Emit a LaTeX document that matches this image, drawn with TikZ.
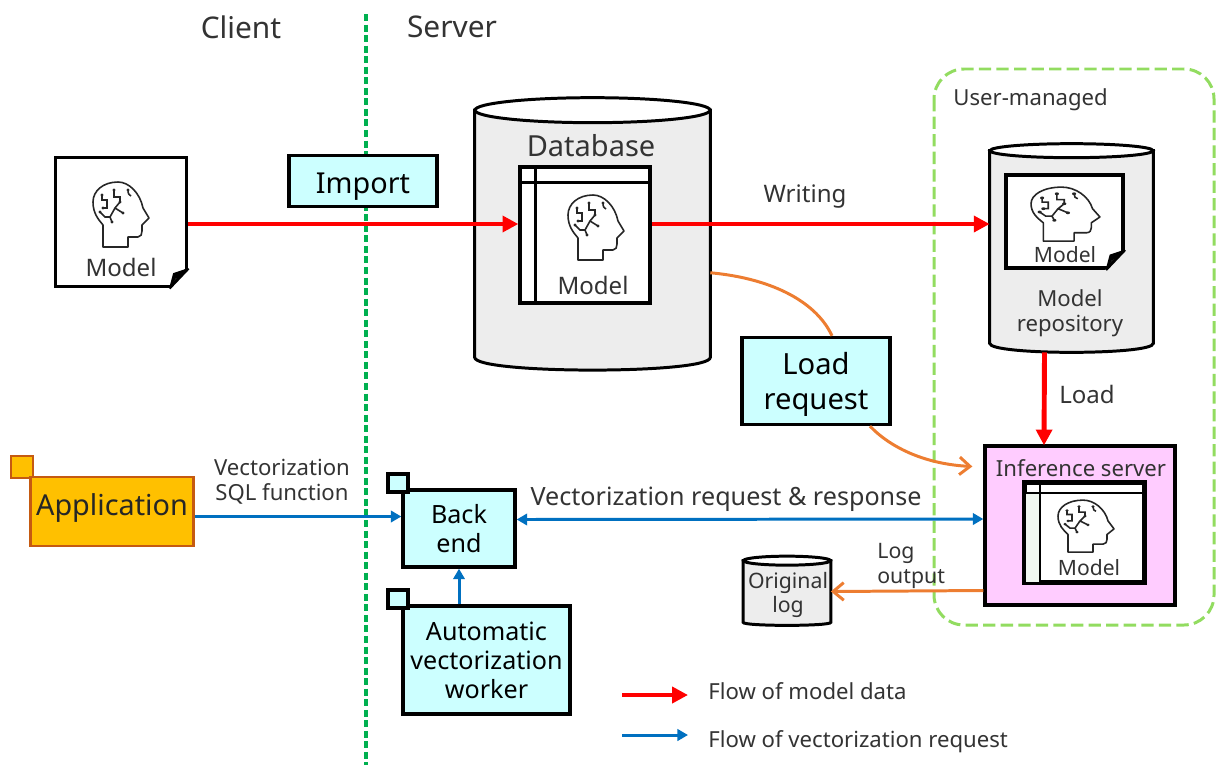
\documentclass[tikz,border=0pt]{standalone}
\usepackage{fontspec}
\setmainfont{Noto Sans}
\usepackage{tikz}
\usetikzlibrary{calc,arrows.meta}
\definecolor{cyanfill}{HTML}{CCFFFF}
\definecolor{pinkfill}{HTML}{FFCCFF}
\definecolor{appfill}{HTML}{FFC000}
\definecolor{appline}{HTML}{C55A11}
\definecolor{grayfill}{HTML}{EDEDED}
\definecolor{flowblue}{HTML}{0070C0}
\definecolor{floworange}{HTML}{ED7D31}
\definecolor{serverline}{HTML}{00B050}
\definecolor{usergreen}{HTML}{92DC60}
\definecolor{palecol}{HTML}{F0F7F0}
\tikzset{
  lbl/.style={inner sep=0pt,text=black!80,align=center},
  lblsmall/.style={lbl,font=\fontsize{12.6}{14}\selectfont},
  lblmodel/.style={lbl,font=\fontsize{12}{14}\selectfont},
  lblmid/.style={lbl,font=\fontsize{13.7}{16}\selectfont},
  lblbig/.style={lbl,font=\fontsize{17}{20}\selectfont},
  box/.style={draw=black,line width=1.9pt,inner sep=0pt,align=center},
  cyanbox/.style={box,fill=cyanfill,font=\fontsize{14.3}{16.5}\selectfont},
  tinybox/.style={draw=black,line width=1.9pt,fill=cyanfill,minimum width=0.4cm,minimum height=0.36cm,inner sep=0pt},
  can/.style={inner sep=0pt},
  whitebox/.style={box,fill=white},
  redflow/.style={draw=red,line width=2.8pt,-{Triangle[length=9pt,width=9pt]}},
  blueflow/.style={draw=flowblue,line width=1.7pt,-{Triangle[length=6pt,width=6.5pt]}},
  bothflow/.style={draw=flowblue,line width=1.7pt,{Triangle[length=6pt,width=6.5pt]}-{Triangle[length=6pt,width=6.5pt]}},
  orangeflow/.style={draw=floworange,line width=1.7pt},
  orangetip/.style={orangeflow,-{Straight Barb[length=6pt,width=10pt]}},
  head/.pic={
    \draw[line width=0.9pt,black!85,line join=round]
      (-16,32) -- (9,32) -- (9,22) -- (19,22) .. controls (22,22) and (23,19) .. (23,16) -- (23,10)
      -- (30,3) -- (24,-7) .. controls (21,-22) and (10,-33) .. (-1,-33)
      .. controls (-16,-33) and (-26,-24) .. (-26,-13) .. controls (-26,-2) and (-21,4) .. (-16,10) -- cycle;
    \draw[line width=0.9pt,black!85]
      (-17,-20) -- (-17,-15) -- (-12,-15) -- (-12,-7) -- (-16,-7)
      (-5,-25) -- (-5,-18) -- (1,-18) -- (1,-13) -- (-4,-7) -- (4,-2)
      (-4,-7) -- (-9,2) -- (-7,7)
      (-19,-3) -- (-14,2) -- (-9,2)
      (9,-25) .. controls (9,-21) and (10,-20) .. (12,-19);
    \foreach \p in {(-17,-20),(-5,-25),(-16,-7),(4,-2),(-19,-3),(-7,7),(9,-25),(1,-13)}
      \fill[black!85] \p circle (1.7);
  }
}
\newcommand{\tablelines}[3]{% node, header drop, column shift
  \draw[line width=1.5pt] ($(#1.north west)+(0,#2)$) -- ($(#1.north east)+(0,#2)$);
  \draw[line width=1.5pt] ($(#1.north west)+(#3,0)$) -- ($(#1.south west)+(#3,0)$);
}
\newcommand{\notefold}[2]{% node, colour outside the fold
  \fill[#2] ($(#1.south east)+(-21,1.5)$) -- ($(#1.south east)+(1.5,1.5)$) -- ($(#1.south east)+(1.5,-21)$) -- cycle;
  \draw[line width=1.9pt,line join=round] ($(#1.south east)+(0,-20)$) -- ($(#1.south east)+(-19,0)$);
  \fill[black] ($(#1.south east)+(0,-20)$) -- ($(#1.south east)+(-15,-15)$) -- ($(#1.south east)+(-19,0)$) -- ($(#1.south east)+(-13,-9)$) -- cycle;
}
\newcommand{\canbody}[4]{% node, half width, end radius, bulge
  \draw[line width=1.7pt,fill=grayfill] (#1.north west) -- (#1.south west)
    .. controls ($(#1.south west)+(0,#4)$) and ($(#1.south east)+(0,#4)$) .. (#1.south east)
    -- (#1.north east) -- cycle;
  \draw[line width=1.7pt,fill=white] (#1.north) ellipse [x radius=#2,y radius=#3];
}
\begin{document}
\begin{tikzpicture}[x=0.02cm,y=-0.02cm]
  \useasboundingbox (0,0) rectangle (1216,765);

  % zones
  \coordinate (divtop) at (366,14);
  \coordinate (divbot) at (366,765);
  \draw[serverline,line width=1.8pt,dash pattern=on 4pt off 2pt] (divtop) -- (divbot);
  \draw[usergreen,line width=1.7pt,dash pattern=on 7pt off 3pt,rounded corners=0.6cm] (934,69) rectangle (1214,625);

  \node[lblbig] (client) at (241,27) {Client};
  \node[lblbig] (server) at (452,27) {Server};
  \node[lblsmall,anchor=west] (usermg) at (953,99.5) {User-managed};

  % stores
  \node[can,minimum width=4.7cm,minimum height=4.93cm] (db) at (592.5,233.75) {};
  \canbody{db}{117.5}{12.5}{17}
  \node[can,minimum width=3.26cm,minimum height=3.84cm] (repo) at (1071.5,247) {};
  \canbody{repo}{81.5}{7}{12}
  \node[can,minimum width=1.74cm,minimum height=1.22cm] (origlog) at (787,591.5) {};
  \canbody{origlog}{43.5}{4.5}{4}

  % model file
  \node[box,fill=white,minimum width=2.62cm,minimum height=2.58cm] (modelfile) at (121,222) {};
  \notefold{modelfile}{white}
  \pic at (119,215) {head};
  \node[lblmid] (modelfiletxt) at (121,267) {Model};

  % model table in database
  \node[whitebox,minimum width=2.6cm,minimum height=2.72cm] (dbtable) at (585,235) {};
  \tablelines{dbtable}{17}{17}
  \node[lblbig,font=\fontsize{16.5}{20}\selectfont] (dbtxt) at (591,146) {Database};
  \pic at (594,228) {head};
  \node[lblmid] (dbmodel) at (593,285) {Model};

  % model file in repository
  \node[box,fill=white,minimum width=2.34cm,minimum height=1.86cm] (repofile) at (1064.5,221.5) {};
  \notefold{repofile}{grayfill}
  \pic[xscale=1.23,yscale=0.83] at (1063,214.5) {head};
  \node[lblmodel] (repomodel) at (1065,255) {Model};
  \node[lblsmall] (repotxt) at (1070,313) {Model\\repository};

  % inference server
  \node[box,fill=pinkfill,minimum width=3.8cm,minimum height=3.18cm] (infer) at (1080,525.5) {};
  \node[lblsmall] (infertxt) at (1081,468) {Inference server};
  \node[whitebox,minimum width=2.36cm,minimum height=1.96cm] (infertable) at (1084.5,532.5) {};
  \fill[palecol] ($(infertable.north west)+(0,11)$) rectangle ($(infertable.south west)+(16,0)$);
  \tablelines{infertable}{11}{16}
  \draw[line width=1.9pt] (infertable.north west) rectangle (infertable.south east);
  \pic[yscale=0.8] at (1084,526.5) {head};
  \node[lblmodel] (infermodel) at (1089,568) {Model};

  % flows of model data
  \draw[redflow] ($(modelfile.east)+(0,2)$) -- ($(dbtable.west)+(0,-11)$);
  \draw[redflow] ($(dbtable.east)+(0,-11)$) -- ($(repo.west)+(0,-23)$);
  \draw[redflow] ($(repo.south)+(-27,9)$) -- ($(infer.north)+(-36,1)$);
  \node[lblmid] (writing) at (805,197) {Writing};
  \node[lblmid] (loadtxt) at (1087,394) {Load};

  % orange flows
  \node[cyanbox,minimum width=2.96cm,minimum height=1.02cm,text depth=0pt,text height=14pt,font=\fontsize{16.4}{19}\selectfont] (import) at (363,181) {Import};
  \node[cyanbox,minimum width=2.96cm,minimum height=1.74cm,text depth=0pt,font=\fontsize{16.6}{20}\selectfont] (loadreq) at (816,381) {Load\\request};
  \draw[orangeflow] ($(db.east)+(0,39)$) .. controls ($(db.east)+(65,45)$) and ($(db.east)+(107,70)$) .. ($(loadreq.north)+(16,0)$);
  \draw[orangetip] ($(loadreq.south)+(54,0)$) .. controls ($(loadreq.south)+(75,22)$) and ($(loadreq.south)+(110,38)$) .. ($(infer.west)+(-11,-59)$);
  \draw[orangetip] ($(infer.west)+(0,65)$) -- (origlog.east);
  \node[lblsmall,font=\fontsize{12.1}{14}\selectfont,align=left,anchor=west] (logtxt) at (877,566) {Log\\output};
  \node[lblsmall,font=\fontsize{12.1}{14}\selectfont] (origtxt) at (788,595) {Original\\log};

  % application side
  \node[draw=appline,line width=1.6pt,fill=appfill,minimum size=0.44cm,inner sep=0pt] (appmark) at (22,467) {};
  \node[draw=appline,line width=1.6pt,fill=appfill,minimum width=3.26cm,minimum height=1.38cm,
        inner sep=0pt,text=black!85,text depth=8pt,font=\fontsize{16.4}{19}\selectfont] (app) at (112,511.5) {Application};
  \node[lblsmall] (sqltxt) at (282,482) {Vectorization\\SQL function};

  % back end and worker
  \node[cyanbox,minimum width=2.24cm,minimum height=1.54cm] (backend) at (459,528.5) {Back\\end};
  \node[tinybox] (backendmark) at (398,483) {};
  \node[cyanbox,minimum width=3.34cm,minimum height=2.16cm] (worker) at (486.5,660) {Automatic\\vectorization\\worker};
  \node[tinybox] (workermark) at (398,599) {};

  \draw[blueflow] ($(app.east)+(0,5)$) -- ($(backend.west)+(0,-12)$);
  \draw[bothflow] ($(backend.east)+(0,-9)$) -- ($(infer.west)+(0,-6.5)$);
  \draw[blueflow] (worker.north -| backend.south) -- (backend.south);
  \node[lblmid,font=\fontsize{14.3}{16}\selectfont] (reqtxt) at (726,499) {Vectorization request \& response};

  % legend
  \coordinate (redstart) at (622,695);
  \coordinate (redend) at (688,695);
  \coordinate (bluestart) at (622,735);
  \coordinate (blueend) at (688,735);
  \draw[redflow] (redstart) -- (redend);
  \draw[blueflow] (bluestart) -- (blueend);
  \node[lblsmall,anchor=west] (redtxt) at (708,691) {Flow of model data};
  \node[lblsmall,anchor=west] (bluetxt) at (708,742) {Flow of vectorization request};
\end{tikzpicture}
\end{document}
